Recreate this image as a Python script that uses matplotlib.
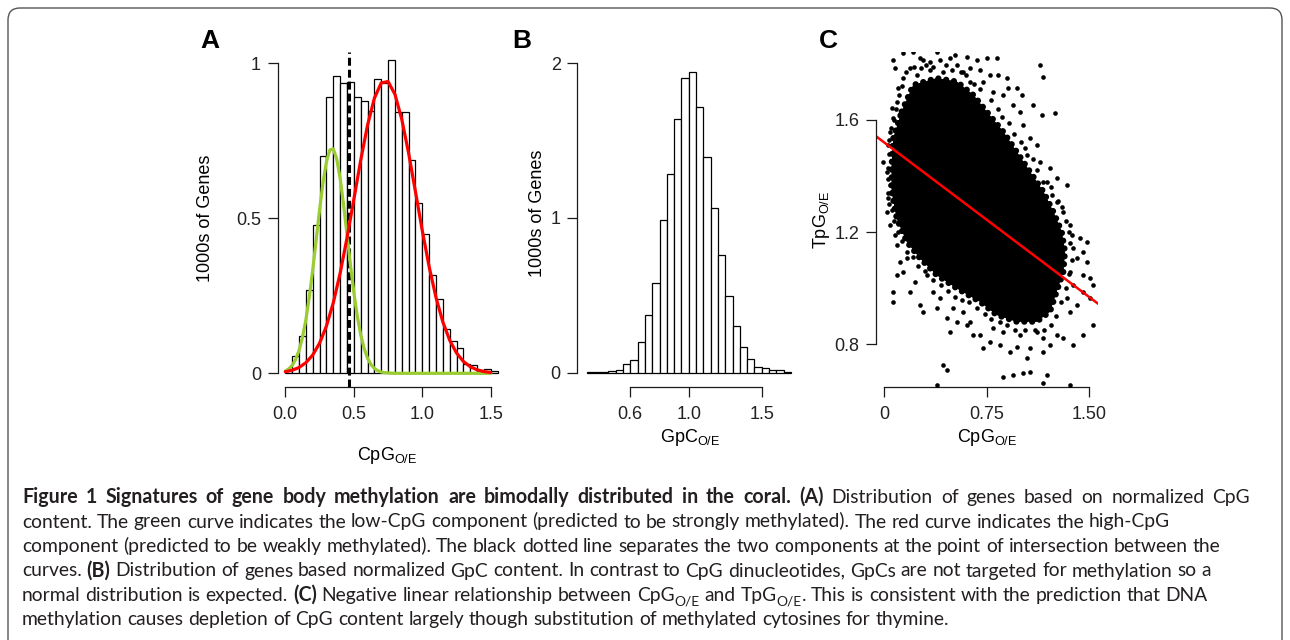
import matplotlib
matplotlib.use("Agg")
import matplotlib.pyplot as plt
from matplotlib.patches import FancyBboxPatch, Polygon
from matplotlib.transforms import IdentityTransform
import numpy as np

# ---------------- data ----------------
# Panel A: CpG O/E histogram (1000s of genes), bins of 0.05 starting at 0
a_bin_start = 0.0
a_bin_width = 0.05
a_counts = [0.01, 0.056, 0.12, 0.27, 0.48, 0.70, 0.89, 0.96, 0.935, 0.94,
            0.89, 0.88, 0.845, 0.95, 0.935, 1.01, 0.842, 0.842, 0.688, 0.548,
            0.449, 0.317, 0.239, 0.142, 0.104, 0.081, 0.029, 0.027, 0.011, 0.014,
            0.008]
# mixture components
a_curve_x_green = [0.0, 0.025, 0.05, 0.075, 0.1, 0.125, 0.15, 0.175, 0.2, 0.225,
                   0.25, 0.275, 0.3, 0.325, 0.35, 0.375, 0.4, 0.425, 0.45, 0.475,
                   0.5, 0.525, 0.55, 0.575, 0.6, 0.625, 0.65, 0.675, 0.7, 0.725,
                   0.75, 0.8, 0.9, 1.0, 1.1, 1.2, 1.3, 1.4, 1.5]
a_green = [0.0073, 0.0139, 0.0255, 0.0443, 0.0732, 0.1152, 0.1724, 0.2456, 0.3328, 0.4291,
           0.5264, 0.6143, 0.6821, 0.7205, 0.7241, 0.6923, 0.6298, 0.5451, 0.4489, 0.3516,
           0.262, 0.1858, 0.1253, 0.0805, 0.0491, 0.0285, 0.0158, 0.0083, 0.0042, 0.002,
           0.001, 0.0, 0.0, 0.0, 0.0, 0.0, 0.0, 0.0, 0.0]
a_curve_x_red = [0.0, 0.05, 0.1, 0.15, 0.2, 0.25, 0.3, 0.35, 0.4, 0.45, 0.5, 0.55,
                 0.6, 0.65, 0.7, 0.75, 0.8, 0.85, 0.9, 0.95, 1.0, 1.05, 1.1, 1.15,
                 1.2, 1.25, 1.3, 1.35, 1.4, 1.45, 1.5]
a_red = [0.0049, 0.0098, 0.0187, 0.0341, 0.0589, 0.0971, 0.1521, 0.227, 0.3223, 0.4357,
         0.5604, 0.6862, 0.7998, 0.8871, 0.9366, 0.9412, 0.9004, 0.8197, 0.7104, 0.5859,
         0.46, 0.3437, 0.2445, 0.1655, 0.1066, 0.0654, 0.0382, 0.0212, 0.0112, 0.0057,
         0.0027]
a_cutoff = 0.465
a_xticks = [0.0, 0.5, 1.0, 1.5]
a_xticklabels = ["0.0", "0.5", "1.0", "1.5"]
a_yticks = [0, 0.5, 1]
a_yticklabels = ["0", "0.5", "1"]

# Panel B: GpC O/E histogram, bins of 0.05 starting at 0.30
b_bin_start = 0.30
b_bin_width = 0.05
b_counts = [0.002, 0.003, 0.005, 0.011, 0.02, 0.054, 0.082, 0.2, 0.373, 0.578,
            0.985, 1.284, 1.64, 1.907, 1.942, 1.716, 1.397, 1.067, 0.759, 0.496,
            0.302, 0.164, 0.088, 0.039, 0.028, 0.017, 0.017, 0.006]
b_xticks = [0.6, 1.0, 1.5]
b_xticklabels = ["0.6", "1.0", "1.5"]
b_yticks = [0, 1, 2]
b_yticklabels = ["0", "1", "2"]

# Panel C: CpG O/E vs TpG O/E
# outline of the saturated (solid black) part of the cloud
c_core_x = [0.129, 0.214, 0.385, 0.531, 0.653, 0.750, 0.872, 0.969, 1.066, 1.164,
            1.237, 1.298, 1.322, 1.310, 1.261, 1.213, 1.115, 0.969, 0.823, 0.701,
            0.531, 0.385, 0.263, 0.166, 0.093, 0.056, 0.056, 0.068]
c_core_y = [1.630, 1.725, 1.749, 1.737, 1.689, 1.630, 1.558, 1.487, 1.416, 1.345,
            1.273, 1.202, 1.131, 1.059, 0.988, 0.917, 0.881, 0.881, 0.905, 0.952,
            1.000, 1.047, 1.107, 1.166, 1.249, 1.345, 1.440, 1.535]
# individual genes visible around the solid part
c_pts_x = [0.068, 0.080, 0.141, 0.214, 0.263, 0.287, 0.336, 0.385, 0.409, 0.482,
           0.519, 0.531, 0.604, 0.628, 0.677, 0.701, 0.750, 0.823, 0.774, 0.835,
           0.896, 0.908, 0.969, 1.006, 1.140, 1.164, 1.091, 1.152, 1.249, 0.993,
           1.018, 0.945, 0.872, 0.799, 0.726, 0.141, 0.105, 0.093, 0.056, 0.068,
           0.044, 0.628, 0.580, 0.433, 0.336, 0.239, 0.190,
           1.066, 1.115, 1.042, 1.140, 1.213, 1.261, 1.334, 1.164, 1.225, 1.261,
           1.310, 1.359, 1.371, 1.432, 1.481, 1.456, 1.481, 1.407, 1.383, 1.359,
           1.456, 1.505, 1.529, 1.505, 1.456, 1.383, 1.407, 1.334, 1.359, 1.529,
           1.456, 1.383, 1.310, 1.261, 1.213,
           1.164, 1.066, 1.042, 0.969, 0.920, 0.847, 0.774, 0.726, 0.701, 0.653,
           0.604, 0.531, 0.482, 0.458, 0.385, 0.433, 0.458, 0.872, 0.945, 1.018,
           1.066, 1.188, 1.164, 0.385, 1.359, 0.799, 0.872, 0.993, 1.115, 1.164,
           0.044, 0.032, 0.019, 0.044, 0.080, 0.093, 0.117, 0.166, 0.141, 0.068,
           0.068, 0.093, 0.190, 0.226, 0.263, 0.287, 0.312, 0.360, 0.409, 0.506,
           0.580, 0.628, -0.005, 0.032, 0.019,
           0.16, 0.22, 0.27, 0.31, 0.36, 0.45, 0.50, 0.56, 0.60, 0.66,
           0.70, 0.78, 0.83, 0.86, 0.91, 0.95, 1.00, 1.03, 1.09, 1.12,
           1.19, 1.22, 1.27, 1.30, 1.33, 1.35, 1.36, 1.37, 1.35, 1.33,
           1.29, 1.26, 1.22, 1.17, 1.10, 1.03, 0.96, 0.90, 0.85, 0.78,
           0.74, 0.68, 0.62, 0.57, 0.52, 0.47, 0.42, 0.36, 0.30, 0.25,
           0.21, 0.17, 0.13, 0.10, 0.07, 0.06, 0.04, 0.03, 0.03, 0.03,
           0.04, 0.04, 0.05, 0.07, 0.09, 0.11, 0.13]
c_pts_y = [1.814, 1.784, 1.838, 1.844, 1.820, 1.814, 1.808, 1.844, 1.814, 1.820,
           1.832, 1.796, 1.826, 1.784, 1.814, 1.778, 1.820, 1.820, 1.760, 1.760,
           1.749, 1.713, 1.713, 1.689, 1.796, 1.755, 1.654, 1.618, 1.624, 1.630,
           1.582, 1.654, 1.689, 1.701, 1.737, 1.749, 1.713, 1.665, 1.642, 1.606,
           1.558, 1.737, 1.772, 1.772, 1.778, 1.760, 1.784,
           1.535, 1.511, 1.475, 1.452, 1.428, 1.392, 1.368, 1.380, 1.333, 1.309,
           1.273, 1.226, 1.190, 1.178, 1.166, 1.131, 1.095, 1.107, 1.143, 1.059,
           1.047, 1.036, 1.012, 0.964, 0.988, 1.012, 0.940, 0.964, 0.917, 0.869,
           0.834, 0.798, 0.822, 0.834, 0.798,
           0.774, 0.786, 0.750, 0.792, 0.774, 0.798, 0.810, 0.786, 0.834, 0.834,
           0.869, 0.881, 0.845, 0.893, 0.929, 0.727, 0.709, 0.685, 0.691, 0.697,
           0.703, 0.691, 0.661, 0.655, 0.655, 0.857, 0.845, 0.834, 0.845, 0.822,
           1.368, 1.321, 1.273, 1.226, 1.190, 1.154, 1.095, 1.107, 1.059, 0.988,
           0.952, 1.047, 0.988, 1.024, 0.940, 0.917, 1.047, 0.988, 0.964, 0.929,
           0.917, 0.881, 1.452, 1.511, 1.416,
           1.77, 1.79, 1.785, 1.795, 1.79, 1.795, 1.78, 1.77, 1.76, 1.73,
           1.71, 1.67, 1.64, 1.61, 1.59, 1.55, 1.52, 1.50, 1.46, 1.42,
           1.38, 1.36, 1.31, 1.29, 1.24, 1.20, 1.16, 1.10, 1.05, 1.00,
           0.95, 0.90, 0.87, 0.85, 0.85, 0.85, 0.85, 0.87, 0.88, 0.89,
           0.91, 0.93, 0.95, 0.96, 0.97, 0.99, 1.01, 1.03, 1.06, 1.08,
           1.11, 1.13, 1.17, 1.20, 1.24, 1.28, 1.30, 1.34, 1.39, 1.43,
           1.48, 1.53, 1.57, 1.60, 1.64, 1.69, 1.72]
c_fit_intercept = 1.5205
c_fit_slope = -0.368
c_xticks = [0, 0.75, 1.5]
c_xticklabels = ["0", "0.75", "1.50"]
c_yticks = [0.8, 1.2, 1.6]
c_yticklabels = ["0.8", "1.2", "1.6"]

# ---------------- figure ----------------
W, H = 1290, 640
plt.rcParams["font.family"] = ["Liberation Sans", "DejaVu Sans"]
plt.rcParams["mathtext.fontset"] = "custom"
plt.rcParams["mathtext.rm"] = "Liberation Sans"
plt.rcParams["mathtext.it"] = "Liberation Sans:italic"
plt.rcParams["mathtext.bf"] = "Liberation Sans:bold"

fig = plt.figure(figsize=(W / 100, H / 100), dpi=100)
fig.patch.set_facecolor("white")

AXCOL = "#1a1a1a"
TICKFS = 13


def make_ax(xref, yref, xlim, ylim):
    # xref = (pixel, value, px_per_unit); yref = (pixel_from_top, value, px_per_unit)
    xp = lambda v: xref[0] + (v - xref[1]) * xref[2]
    yp = lambda v: yref[0] - (v - yref[1]) * yref[2]
    l, r = xp(xlim[0]), xp(xlim[1])
    t, b = yp(ylim[1]), yp(ylim[0])
    ax = fig.add_axes([l / W, 1 - b / H, (r - l) / W, (b - t) / H])
    ax.set_xlim(*xlim)
    ax.set_ylim(*ylim)
    ax.patch.set_alpha(0)
    for s in ("top", "right"):
        ax.spines[s].set_visible(False)
    for s in ("left", "bottom"):
        ax.spines[s].set_linewidth(0.9)
        ax.spines[s].set_color(AXCOL)
    ax.tick_params(direction="out", length=7, width=0.9, colors=AXCOL,
                   labelsize=TICKFS, labelcolor="#222222")
    ax.tick_params(axis="x", pad=7)
    ax.tick_params(axis="y", pad=5)
    return ax


def ftext(x, y, s, **kw):
    return fig.text(x / W, 1 - y / H, s, **kw)


# ---- Panel A ----
axA = make_ax((285.3, 0.0, 137.0), (373.3, 0.0, 310.0), (-0.0555, 1.6), (-0.0432, 1.1))
a_edges = [a_bin_start + i * a_bin_width for i in range(len(a_counts))]
axA.bar(a_edges, a_counts, width=a_bin_width, align="edge", color="white",
        edgecolor="black", linewidth=0.9, zorder=2)
axA.plot(a_curve_x_green, a_green, color="#9acd32", lw=2.3, zorder=4, solid_capstyle="round")
axA.plot(a_curve_x_red, a_red, color="#ff0000", lw=2.3, zorder=5, solid_capstyle="round")
ylo, yhi = axA.get_ylim()
axA.axvline(a_cutoff, ymin=0, ymax=(1.037 - ylo) / (yhi - ylo), color="black",
            lw=2.2, ls=(0, (2.6, 1.3)), zorder=3)
axA.spines["left"].set_bounds(0, 1)
axA.spines["bottom"].set_bounds(0, 1.5)
axA.set_xticks(a_xticks, a_xticklabels)
axA.set_yticks(a_yticks, a_yticklabels)
ftext(387, 456, r"CpG$_{\rm O/E}$", ha="center", va="center", fontsize=TICKFS)
ftext(205, 218, "1000s of Genes", ha="center", va="center", rotation=90, fontsize=TICKFS)
ftext(200, 48.5, "A", ha="left", va="baseline", fontsize=19, fontweight="bold")

# ---- Panel B ----
axB = make_ax((688.7, 1.0, 146.0), (372.7, 0.0, 154.7), (0.237, 1.75), (-0.0905, 2.1))
b_edges = [b_bin_start + i * b_bin_width for i in range(len(b_counts))]
axB.bar(b_edges, b_counts, width=b_bin_width, align="edge", color="white",
        edgecolor="black", linewidth=0.9, zorder=2)
axB.spines["left"].set_bounds(0, 2)
axB.spines["bottom"].set_bounds(0.6, 1.5)
axB.set_xticks(b_xticks, b_xticklabels)
axB.set_yticks(b_yticks, b_yticklabels)
ftext(690, 437, r"GpC$_{\rm O/E}$", ha="center", va="center", fontsize=TICKFS)
ftext(538, 213, "1000s of Genes", ha="center", va="center", rotation=90, fontsize=TICKFS)
ftext(512, 48.5, "B", ha="left", va="baseline", fontsize=19, fontweight="bold")

# ---- Panel C ----
axC = make_ax((884.0, 0.0, 136.9), (120.0, 1.6, 280.5), (-0.0584, 1.561), (0.6492, 1.843))
axC.add_patch(Polygon(np.column_stack([c_core_x, c_core_y]), closed=True,
                      facecolor="black", edgecolor="black", lw=4.5,
                      ls=(0, (0.01, 1.25)), capstyle="round", joinstyle="round", zorder=2))
axC.add_patch(Polygon(np.column_stack([c_core_x, c_core_y]), closed=True,
                      facecolor="black", edgecolor="none", zorder=2))
axC.scatter(c_pts_x, c_pts_y, s=11, color="black", linewidths=0, zorder=3)
axC.axline((0, c_fit_intercept), slope=c_fit_slope, color="#ff0000", lw=1.8, zorder=5)
axC.spines["left"].set_bounds(0.8, 1.6)
axC.spines["bottom"].set_bounds(0, 1.5)
axC.spines["left"].set_zorder(6)
axC.set_xticks(c_xticks, c_xticklabels)
axC.set_yticks(c_yticks, c_yticklabels)
ftext(987, 437, r"CpG$_{\rm O/E}$", ha="center", va="center", fontsize=TICKFS)
ftext(822, 220, r"TpG$_{\rm O/E}$", ha="center", va="center", rotation=90, fontsize=TICKFS)
ftext(819, 48.5, "C", ha="left", va="baseline", fontsize=19, fontweight="bold")

# ---- Frame ----
frame = FancyBboxPatch((8, -30), 1274, H - 8 + 30,
                       boxstyle="round,pad=0,rounding_size=12",
                       transform=IdentityTransform(), fill=False,
                       edgecolor="#555555", lw=1.0)
fig.patches.append(frame)

# ---- Caption ----
CAPFAM = ["Lato", "DejaVu Sans"]
CAPCOL = "#231f20"
renderer = fig.canvas.get_renderer()


def measure(s, size, bold):
    kw = dict(fontsize=size, family=CAPFAM, fontweight="bold" if bold else "normal")
    t1 = fig.text(0, 0, s + "|", **kw)
    t2 = fig.text(0, 0, "|", **kw)
    w = t1.get_window_extent(renderer).width - t2.get_window_extent(renderer).width
    t1.remove()
    t2.remove()
    return w


def to_words(runs):
    words = [[]]
    for text, bold, sub in runs:
        parts = text.split(" ")
        for i, p in enumerate(parts):
            if i > 0:
                words.append([])
            if p:
                words[-1].append((p, bold, sub))
    return [w for w in words if w]


def piece_size(bold, sub, size, bsize):
    base = bsize if bold else size
    return base * 0.72 if sub else base


def line_layout(runs, size, bsize):
    words = to_words(runs)
    widths = [sum(measure(t, piece_size(b, s, size, bsize), b) for t, b, s in w) for w in words]
    return words, widths, measure(" ", size, False)


def natural_width(runs, size, bsize):
    words, widths, space = line_layout(runs, size, bsize)
    return sum(widths) + space * (len(words) - 1)


def draw_line(x0, x1, y, runs, size, bsize, justify):
    words, widths, gap = line_layout(runs, size, bsize)
    if justify and len(words) > 1:
        gap = (x1 - x0 - sum(widths)) / (len(words) - 1)
    cur = x0
    for w, ww in zip(words, widths):
        c = cur
        for t, b, s in w:
            fs = piece_size(b, s, size, bsize)
            dy = (bsize if b else size) * 0.22 * 100 / 72 if s else 0
            fig.text(c / W, 1 - (y + dy) / H, t, fontsize=fs, family=CAPFAM,
                     fontweight="bold" if b else "normal", color=CAPCOL,
                     ha="left", va="baseline")
            c += measure(t, fs, b)
        cur += ww + gap


lines = [
    [("Figure 1 Signatures of gene body methylation are bimodally distributed in the coral. (A)", True, False),
     (" Distribution of genes based on normalized CpG", False, False)],
    [("content. The green curve indicates the low-CpG component (predicted to be strongly methylated). The red curve indicates the high-CpG", False, False)],
    [("component (predicted to be weakly methylated). The black dotted line separates the two components at the point of intersection between the", False, False)],
    [("curves. ", False, False), ("(B)", True, False),
     (" Distribution of genes based normalized GpC content. In contrast to CpG dinucleotides, GpCs are not targeted for methylation so a", False, False)],
    [("normal distribution is expected. ", False, False), ("(C)", True, False),
     (" Negative linear relationship between CpG", False, False), ("O/E", False, True),
     (" and TpG", False, False), ("O/E", False, True),
     (". This is consistent with the prediction that DNA", False, False)],
    [("methylation causes depletion of CpG content largely though substitution of methylated cytosines for thymine.", False, False)],
]
X0 = 22
line_ends = [1250, 1177, 1250, 1207, 1210, 898]
baselines = [503, 527.5, 552, 576.5, 601, 625]

# font sizes: regular text sized on the middle lines, bold lead-in by its span
bold_size = 10 * (780 - X0) / measure(lines[0][0][0], 10, True)
nat = sum(natural_width(lines[k], 10, bold_size * 1.0) for k in (1, 2, 3, 4))
tgt = sum(line_ends[k] - X0 for k in (1, 2, 3, 4))
reg_size = 10 * tgt / nat
for k, (ln, yb, xe) in enumerate(zip(lines, baselines, line_ends)):
    draw_line(X0, xe, yb, ln, reg_size, bold_size, justify=(k == 0))

fig.savefig("out.png", dpi=100, facecolor="white")
